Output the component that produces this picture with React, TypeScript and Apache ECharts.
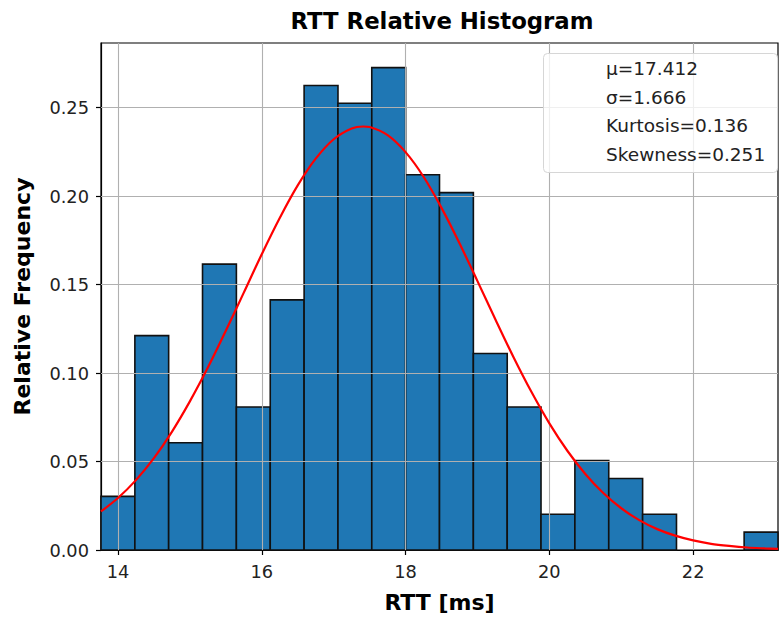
import React, { useEffect, useRef } from "react";
import * as echarts from "echarts";

const binEdges = [13.764, 14.235, 14.705, 15.176, 15.647, 16.118, 16.589, 17.06, 17.53, 18.001, 18.472, 18.943, 19.414, 19.884, 20.355, 20.826, 21.297, 21.768, 22.238, 22.709, 23.18];
const relFreq = [0.0303, 0.1212, 0.0606, 0.1616, 0.0808, 0.1414, 0.2626, 0.2525, 0.2727, 0.2121, 0.202, 0.1111, 0.0808, 0.0202, 0.0505, 0.0404, 0.0202, 0, 0, 0.0101];
const curveX = [13.764, 14.0, 14.25, 14.5, 14.75, 15.0, 15.25, 15.5, 15.75, 16.0, 16.25, 16.5, 16.75, 17.0, 17.25, 17.412, 17.5, 17.75, 18.0, 18.25, 18.5, 18.75, 19.0, 19.25, 19.5, 19.75, 20.0, 20.25, 20.5, 20.75, 21.0, 21.25, 21.5, 21.75, 22.0, 22.25, 22.5, 22.75, 23.0, 23.18];
const curveY = [0.0218, 0.0294, 0.0395, 0.0519, 0.0668, 0.084, 0.1031, 0.1239, 0.1455, 0.1672, 0.1877, 0.2061, 0.2212, 0.2322, 0.2383, 0.2394, 0.2391, 0.2345, 0.2249, 0.211, 0.1934, 0.1734, 0.152, 0.1303, 0.1091, 0.0894, 0.0716, 0.0561, 0.043, 0.0322, 0.0236, 0.0169, 0.0118, 0.0081, 0.0054, 0.0035, 0.0023, 0.0014, 0.0009, 0.0006];
const xTicks = [14, 16, 18, 20, 22];
const yTicks = [0, 0.05, 0.1, 0.15, 0.2, 0.25];
const statsLines = ["μ=17.412", "σ=1.666", "Kurtosis=0.136", "Skewness=0.251"];

const FONT = "DejaVu Sans";

export default function App() {
  const ref = useRef<HTMLDivElement>(null);
  useEffect(() => {
    if (!ref.current) return;
    const chart = echarts.init(ref.current, null, { renderer: "svg" });
    const barData = relFreq
      .map((v, i) => [binEdges[i], binEdges[i + 1], v])
      .filter((d) => d[2] > 0);
    const gridMarks = [
      ...xTicks.map((v) => ({ xAxis: v })),
      ...yTicks.filter((v) => v > 0).map((v) => ({ yAxis: v })),
    ];
    chart.setOption({
      animation: false,
      grid: { left: 101, top: 43, right: 1, bottom: 66, show: true, borderColor: "#000", borderWidth: 1.2, backgroundColor: "transparent" },
      xAxis: {
        type: "value",
        min: binEdges[0],
        max: binEdges[binEdges.length - 1],
        name: "RTT [ms]",
        nameLocation: "middle",
        nameGap: 41,
        nameTextStyle: { fontFamily: FONT, fontSize: 22, fontWeight: "bold", color: "#000" },
        axisLine: { show: true, onZero: false, lineStyle: { color: "#000", width: 1.2 } },
        axisTick: { show: true, length: 5, customValues: xTicks, lineStyle: { color: "#000", width: 1.2 } },
        axisLabel: { customValues: xTicks, fontFamily: FONT, fontSize: 17.8, color: "#222", margin: 12 },
        splitLine: { show: false },
      },
      yAxis: {
        type: "value",
        min: 0,
        max: 0.2866,
        name: "Relative Frequency",
        nameLocation: "middle",
        nameGap: 68,
        nameTextStyle: { fontFamily: FONT, fontSize: 22, fontWeight: "bold", color: "#000" },
        axisLine: { show: true, lineStyle: { color: "#000", width: 1.2 } },
        axisTick: { show: true, length: 5, customValues: yTicks, lineStyle: { color: "#000", width: 1.2 } },
        axisLabel: { customValues: yTicks, fontFamily: FONT, fontSize: 17.8, color: "#222", margin: 12, formatter: (v: number) => v.toFixed(2) },
        splitLine: { show: false },
      },
      series: [
        {
          type: "custom",
          z: 2,
          data: barData,
          encode: { x: [0, 1], y: 2 },
          renderItem: (params: any, api: any) => {
            const p0 = api.coord([api.value(0), api.value(2)]);
            const p1 = api.coord([api.value(1), 0]);
            return {
              type: "rect",
              shape: { x: p0[0], y: p0[1], width: p1[0] - p0[0], height: p1[1] - p0[1] },
              style: { fill: "#1f77b4", stroke: "#111", lineWidth: 1.6 },
            };
          },
          markLine: {
            silent: true,
            symbol: "none",
            label: { show: false },
            lineStyle: { color: "#b0b0b0", width: 1.1, type: "solid" },
            data: gridMarks,
          },
        },
        {
          type: "line",
          z: 10,
          data: curveX.map((x, i) => [x, curveY[i]]),
          showSymbol: false,
          smooth: 0.3,
          lineStyle: { color: "#ff0000", width: 2.2 },
        },
      ],
      graphic: [
        {
          type: "text",
          x: 442,
          y: 21,
          z: 100,
          style: { text: "RTT Relative Histogram", fontFamily: FONT, fontSize: 22.8, fontWeight: "bold", fill: "#000", align: "center", verticalAlign: "middle" },
        },
        {
          type: "rect",
          z: 100,
          shape: { x: 543.5, y: 53.5, width: 234, height: 119, r: 4 },
          style: { fill: "rgba(255,255,255,0.8)", stroke: "#d6d6d6", lineWidth: 1 },
        },
        ...statsLines.map((t, i) => ({
          type: "text",
          z: 101,
          x: 606,
          y: 68.5 + i * 28.6,
          style: { text: t, fontFamily: FONT, fontSize: 18.5, fill: "#222", align: "left", verticalAlign: "middle" },
        })),
      ],
    });
    return () => chart.dispose();
  }, []);
  return <div ref={ref} style={{ position: "absolute", left: 0, top: 0, width: 779, height: 618 }} />;
}
